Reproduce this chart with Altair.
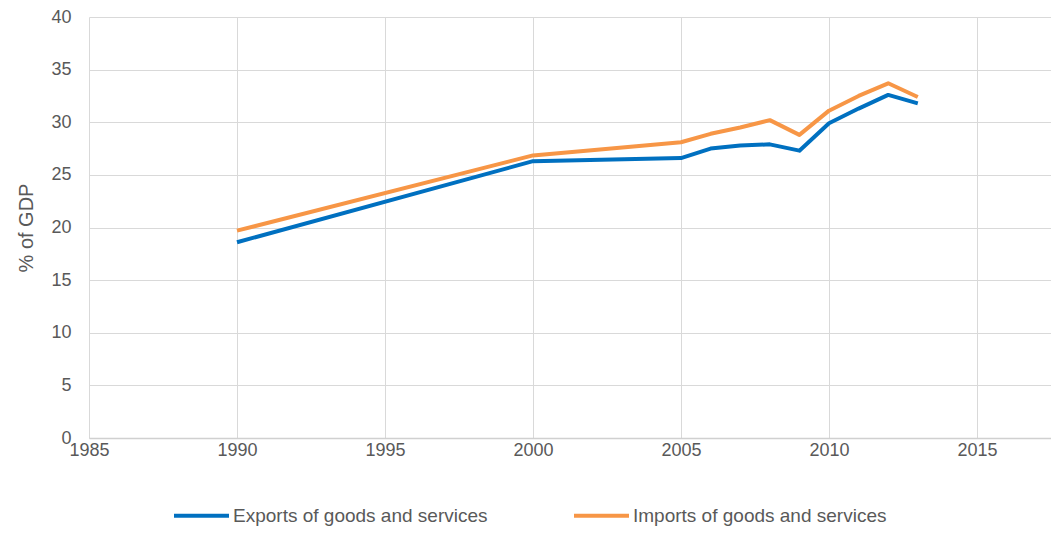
import altair as alt
import pandas as pd

years = [1990, 2000, 2005, 2006, 2007, 2008, 2009, 2010, 2011, 2012, 2013]
exports = [18.6, 26.3, 26.6, 27.5, 27.8, 27.9, 27.3, 29.9, 31.3, 32.6, 31.8]
imports = [19.7, 26.85, 28.1, 28.9, 29.5, 30.2, 28.8, 31.1, 32.5, 33.7, 32.4]
series = ["Exports of goods and services", "Imports of goods and services"]
colors = ["#0070C0", "#F79646"]
x_ticks = [1985, 1990, 1995, 2000, 2005, 2010, 2015]
y_ticks = [0, 5, 10, 15, 20, 25, 30, 35, 40]

rows = []
for y, e, i in zip(years, exports, imports):
    rows.append({"year": y, "value": e, "series": series[0]})
    rows.append({"year": y, "value": i, "series": series[1]})
df = pd.DataFrame(rows)

font = "Liberation Sans"
grey = "#595959"

chart = alt.Chart(df).mark_line(strokeWidth=4, strokeJoin="round").encode(
    x=alt.X("year:Q",
            scale=alt.Scale(domain=[1985, 2017.5], nice=False, zero=False),
            axis=alt.Axis(values=x_ticks, format="d", title=None, ticks=False,
                          labelFontSize=18, labelColor=grey, labelFont=font,
                          labelPadding=3, domainColor="#d0d0d0", domainWidth=1.5,
                          grid=True, gridColor="#d9d9d9", labelFlush=False)),
    y=alt.Y("value:Q",
            scale=alt.Scale(domain=[0, 40], nice=False),
            axis=alt.Axis(values=y_ticks, title="% of GDP", ticks=False, domain=False,
                          labelFontSize=18, labelColor=grey, labelFont=font,
                          labelPadding=18, titleFontSize=20, titleColor=grey,
                          titleFont=font, titleFontWeight="normal", titlePadding=14,
                          grid=True, gridColor="#d9d9d9")),
    color=alt.Color("series:N",
                    scale=alt.Scale(domain=series, range=colors),
                    legend=alt.Legend(title=None, orient="none", direction="horizontal",
                                      legendX=83, legendY=469, padding=0,
                                      symbolType="stroke", symbolSize=3025,
                                      symbolStrokeWidth=4, labelFontSize=19,
                                      labelColor=grey, labelFont=font, labelLimit=0,
                                      labelOffset=2, columnPadding=78)),
).properties(
    width=962, height=421,
    autosize=alt.AutoSizeParams(type="none"),
    padding={"left": 81, "top": 9, "right": 0, "bottom": 92},
).configure_view(stroke=None)

chart.save("out.html", embed_options={"renderer": "svg", "actions": False})
